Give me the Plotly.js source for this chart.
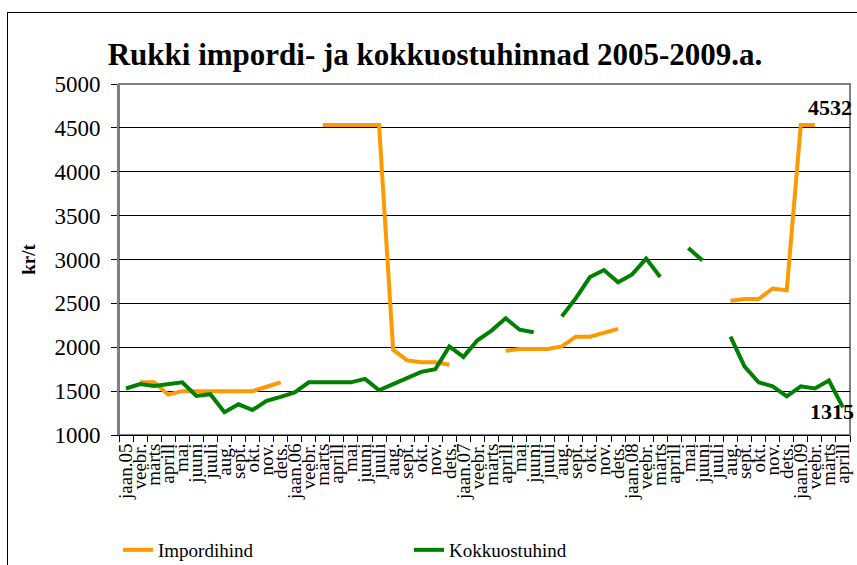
<!DOCTYPE html>
<html><head><meta charset="utf-8">
<script src="https://cdn.plot.ly/plotly-3.0.1.min.js"></script>
<style>
html,body{margin:0;padding:0;overflow:hidden;background:#fff;width:857px;height:565px}
#frame{position:absolute;left:7px;top:12px;width:900px;height:600px;border:1px solid #000;box-sizing:border-box}
#chart{position:absolute;left:0;top:0;width:857px;height:565px}
</style></head>
<body><div id="frame"></div><div id="chart"></div>
<script>
const months = [
  "jaan.05","veebr.","märts","aprill","mai","juuni","juuli","aug.","sept.","okt.","nov.","dets.",
  "jaan.06","veebr.","märts","aprill","mai","juuni","juuli","aug.","sept.","okt.","nov.","dets.",
  "jaan.07","veebr.","märts","aprill","mai","juuni","juuli","aug.","sept.","okt.","nov.","dets.",
  "jaan.08","veebr.","märts","aprill","mai","juuni","juuli","aug.","sept.","okt.","nov.","dets.",
  "jaan.09","veebr.","märts","aprill"
];
const importPrice = [
  null,1600,1600,1460,1500,1500,1500,1500,1500,1500,1550,1600,
  null,null,4532,4532,4532,4532,4532,1970,1850,1830,1830,1800,
  null,null,null,1960,1980,1980,1980,2010,2120,2120,2170,2210,
  null,null,null,null,null,null,null,2530,2550,2550,2670,2650,
  4532,4532,null,null
];
const purchasePrice = [
  1530,1580,1560,1580,1600,1445,1465,1260,1350,1285,1390,1435,
  1485,1600,1600,1600,1600,1640,1510,1580,1650,1720,1750,2010,
  1890,2080,2190,2330,2200,2170,null,2350,2560,2800,2880,2740,
  2830,3010,2800,null,3130,2990,null,2120,1780,1600,1555,1440,
  1555,1530,1620,1315
];
const seriesNames = ["Impordihind","Kokkuostuhind"];
const titleText = "Rukki impordi- ja kokkuostuhinnad 2005-2009.a.";
const yTitle = "kr/t";

const idx = months.map((m,i)=>i);
const serif = "Liberation Serif, Times New Roman, serif";

const traces = [
  {x: idx, y: importPrice, name: seriesNames[0], type:'scatter', mode:'lines',
   line:{color:'#FF9900', width:4}, connectgaps:false, hoverinfo:'skip'},
  {x: idx, y: purchasePrice, name: seriesNames[1], type:'scatter', mode:'lines',
   line:{color:'#008000', width:4}, connectgaps:false, hoverinfo:'skip'}
];

let lastImp = importPrice.length-1; while(importPrice[lastImp]==null) lastImp--;
let lastPur = purchasePrice.length-1; while(purchasePrice[lastPur]==null) lastPur--;

const layout = {
  width:857, height:565,
  paper_bgcolor:'rgba(0,0,0,0)', plot_bgcolor:'#fff',
  margin:{l:119, r:7, t:84, b:130},
  font:{family:serif, color:'#000'},
  title:{text:'<b>'+titleText+'</b>', font:{family:serif, size:31, color:'#000'},
         xref:'container', x:435/857, xanchor:'center', yref:'container', y:1-54/565, yanchor:'middle'},
  xaxis:{type:'category', tickvals:idx, ticktext:months, tickangle:-90, tickson:'boundaries',
         ticks:'outside', ticklen:6, tickcolor:'#000', tickwidth:1,
         showline:true, linecolor:'#000', linewidth:1, showgrid:false, zeroline:false,
         range:[-0.5, months.length-0.5], tickfont:{family:serif, size:19, color:'#000'}},
  yaxis:{range:[1000,5000], dtick:500, tick0:1000, ticks:'outside', ticklen:6, tickcolor:'#000',
         showgrid:true, gridcolor:'#000', gridwidth:1, zeroline:false,
         showline:true, linecolor:'#808080', linewidth:2, ticklabelstandoff:6,
         tickfont:{family:serif, size:23, color:'#000'},
         title:{text:'<b>'+yTitle+'</b>', font:{family:serif, size:19, color:'#000'}, standoff:14}},
  shapes:[{type:'rect', xref:'paper', yref:'paper', x0:0, x1:1, y0:0, y1:1,
           line:{color:'#808080', width:2}, layer:'between'}],
  showlegend:true,
  legend:{orientation:'h', xref:'container', yref:'container', x:118/857, y:15/565,
          xanchor:'left', yanchor:'middle', entrywidth:246, entrywidthmode:'pixels',
          font:{family:serif, size:19, color:'#000'}, bgcolor:'rgba(0,0,0,0)', traceorder:'normal'},
  annotations:[
    {x:lastImp, y:importPrice[lastImp], xref:'x', yref:'y', text:'<b>'+importPrice[lastImp]+'</b>',
     showarrow:false, xanchor:'left', yanchor:'bottom', xshift:-9, yshift:3,
     font:{family:serif, size:22, color:'#000'}},
    {x:lastPur, y:purchasePrice[lastPur], xref:'x', yref:'y', text:'<b>'+purchasePrice[lastPur]+'</b>',
     showarrow:false, xanchor:'center', yanchor:'middle', xshift:-11, yshift:-4,
     font:{family:serif, size:22, color:'#000'}}
  ]
};
Plotly.newPlot('chart', traces, layout, {staticPlot:true, displayModeBar:false});
</script>
</body></html>
